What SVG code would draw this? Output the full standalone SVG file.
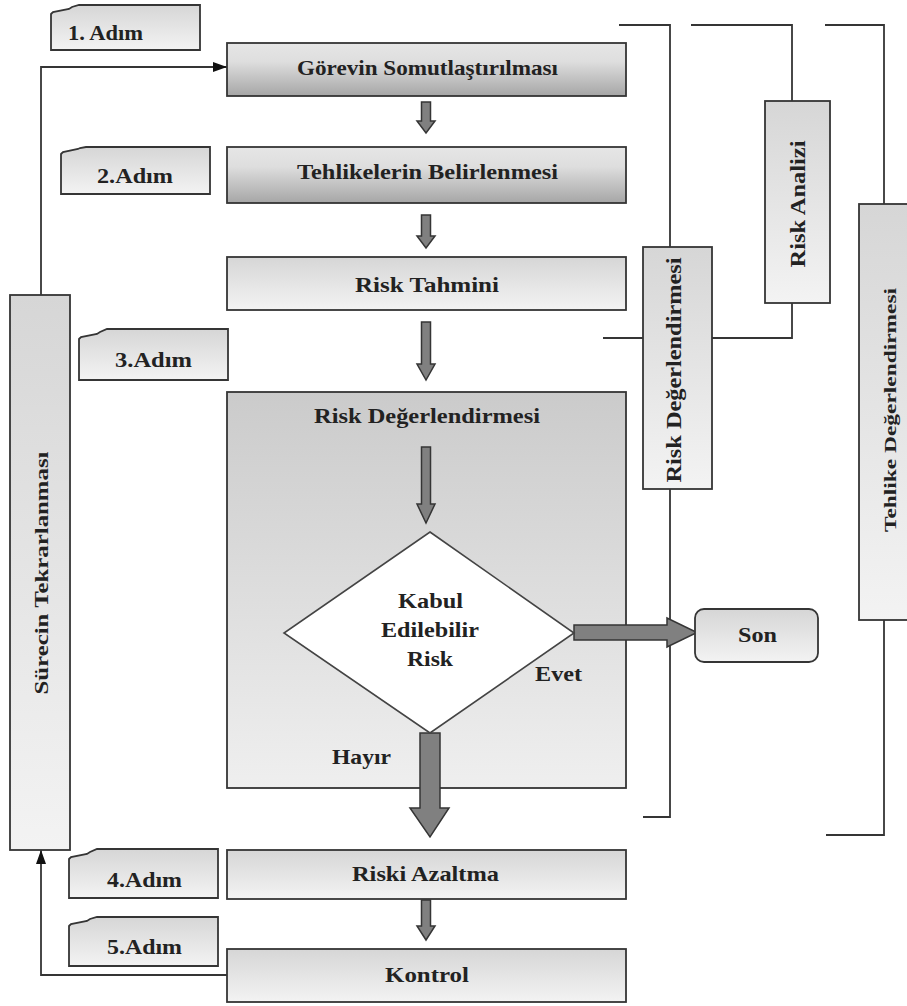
<svg xmlns="http://www.w3.org/2000/svg" width="907" height="1006" viewBox="0 0 907 1006">
<defs>
<linearGradient id="gDark" x1="0" y1="0" x2="0" y2="1"><stop offset="0" stop-color="#e6e6e6"/><stop offset="0.35" stop-color="#dedede"/><stop offset="1" stop-color="#a6a6a6"/></linearGradient>
<linearGradient id="gLight" x1="0" y1="0" x2="0" y2="1"><stop offset="0" stop-color="#d6d6d6"/><stop offset="1" stop-color="#f3f3f3"/></linearGradient>
<linearGradient id="gBig" x1="0" y1="0" x2="0" y2="1"><stop offset="0" stop-color="#cbcbcb"/><stop offset="1" stop-color="#efefef"/></linearGradient>
<marker id="ah" markerUnits="userSpaceOnUse" markerWidth="14" markerHeight="10" refX="14" refY="5" orient="auto"><path d="M0,0 L14,5 L0,10 Z" fill="#111"/></marker>
</defs>
<style>
.box{stroke:#353535;stroke-width:1.8}
.dark{fill:url(#gDark)}
.light{fill:url(#gLight)}
.t{font-family:"Liberation Serif","Times New Roman",serif;font-weight:bold;fill:#222}
.m{font-size:22px}
.s{font-size:20px}
.ln{fill:none;stroke:#353535;stroke-width:1.8}
.blk{fill:#808080;stroke:#353535;stroke-width:1.5}
</style>

<g id="connectors">
<polyline class="ln" points="41,295 41,67 227,67" marker-end="url(#ah)"/>
<polyline class="ln" points="227,975 41,975 41,850" marker-end="url(#ah)"/>
<path class="blk" d="M421.5,102 L430.5,102 L430.5,121 L435,121 L426,133 L417,121 L421.5,121 Z"/>
<path class="blk" d="M421.5,215 L430.5,215 L430.5,236 L435,236 L426,248 L417,236 L421.5,236 Z"/>
<path class="blk" d="M421.5,322 L430.5,322 L430.5,364 L435,364 L426,380 L417,364 L421.5,364 Z"/>
<path class="blk" d="M421.5,900 L430.5,900 L430.5,926 L435,926 L426,940 L417,926 L421.5,926 Z"/>
<polyline class="ln" points="619,25 670,25 670,247"/>
<polyline class="ln" points="670,489 670,817 643,817"/>
<polyline class="ln" points="603,338 643,338"/>
<polyline class="ln" points="712,338 792,338 792,303"/>
<polyline class="ln" points="691,25 792,25 792,101"/>
<polyline class="ln" points="825,25 884,25 884,204"/>
<polyline class="ln" points="884,620 884,835 826,835"/>
</g>

<g id="step1"><path class="box light" d="M51,14 L53,12 L69,9 L72,7 L79,5 L200,5 L200,50 L51,50 Z"/><text class="t s" x="68" y="40" textLength="75" lengthAdjust="spacingAndGlyphs">1. Adım</text></g>
<g id="step2"><path class="box light" d="M61,154 L63,152 L78,149 L80,148 L86,147 L210,147 L210,194 L61,194 Z"/><text class="t s" x="97" y="183" textLength="76" lengthAdjust="spacingAndGlyphs">2.Adım</text></g>
<g id="step3"><path class="box light" d="M79,339 L81,337 L97,334 L100,332 L107,329 L228,329 L228,380 L79,380 Z"/><text class="t s" x="115" y="367" textLength="77" lengthAdjust="spacingAndGlyphs">3.Adım</text></g>
<g id="step4"><path class="box light" d="M69,859 L71,857 L87,854 L90,852 L97,849 L218,849 L218,898 L69,898 Z"/><text class="t s" x="107" y="887" textLength="75" lengthAdjust="spacingAndGlyphs">4.Adım</text></g>
<g id="step5"><path class="box light" d="M69,926 L71,924 L87,921 L90,919 L97,917 L218,917 L218,966 L69,966 Z"/><text class="t s" x="107" y="954" textLength="75" lengthAdjust="spacingAndGlyphs">5.Adım</text></g>

<g id="gorev"><rect class="box dark" x="227" y="43" width="399" height="53"/><text class="t m" x="297" y="75" textLength="261" lengthAdjust="spacingAndGlyphs">Görevin Somutlaştırılması</text></g>
<g id="tehlikeler"><rect class="box dark" x="227" y="147" width="399" height="56"/><text class="t m" x="297" y="179" textLength="261" lengthAdjust="spacingAndGlyphs">Tehlikelerin Belirlenmesi</text></g>
<g id="tahmin"><rect class="box light" x="227" y="257" width="399" height="53"/><text class="t m" x="355" y="292" textLength="144" lengthAdjust="spacingAndGlyphs">Risk Tahmini</text></g>

<g id="riskdeg"><rect class="box" fill="url(#gBig)" x="227" y="392" width="399" height="396"/><text class="t m" x="314" y="423" textLength="226" lengthAdjust="spacingAndGlyphs">Risk Değerlendirmesi</text>
<path class="blk" d="M421.5,447 L430.5,447 L430.5,504 L435,504 L426,523 L417,504 L421.5,504 Z"/>
<text class="t m" x="535" y="681" textLength="47" lengthAdjust="spacingAndGlyphs">Evet</text>
<text class="t m" x="332" y="764" textLength="59" lengthAdjust="spacingAndGlyphs">Hayır</text>
</g>

<g id="evetarrow"><path class="blk" d="M574,625 L667,625 L667,618 L697,632.5 L667,647 L667,640 L574,640 Z"/></g>
<g id="hayirarrow"><path class="blk" d="M420,733 L440,733 L440,808 L449,808 L430,837 L410,808 L420,808 Z"/></g>

<g id="karar"><polygon points="430,532 574,633 430,733 284,633" fill="#fff" stroke="#444" stroke-width="1.6"/>
<text class="t m" x="398" y="608" textLength="65" lengthAdjust="spacingAndGlyphs">Kabul</text>
<text class="t m" x="381" y="637" textLength="98" lengthAdjust="spacingAndGlyphs">Edilebilir</text>
<text class="t m" x="407" y="666" textLength="46" lengthAdjust="spacingAndGlyphs">Risk</text></g>

<g id="son"><rect class="box light" x="695" y="609" width="123" height="53" rx="9"/><text class="t" font-size="21" x="738" y="642" textLength="39" lengthAdjust="spacingAndGlyphs">Son</text></g>

<g id="azaltma"><rect class="box light" x="227" y="850" width="399" height="49"/><text class="t m" x="352" y="881" textLength="147" lengthAdjust="spacingAndGlyphs">Riski Azaltma</text></g>
<g id="kontrol"><rect class="box light" x="227" y="949" width="399" height="53"/><text class="t m" x="385" y="982" textLength="84" lengthAdjust="spacingAndGlyphs">Kontrol</text></g>

<g id="surec"><rect class="box light" x="10" y="295" width="60" height="555"/><text class="t" font-size="19" transform="translate(41,573) rotate(-90)" x="-121.5" y="6.5" textLength="243" lengthAdjust="spacingAndGlyphs">Sürecin Tekrarlanması</text></g>
<g id="riskdegv"><rect class="box light" x="643" y="247" width="69" height="242"/><text class="t" font-size="21" transform="translate(674,370) rotate(-90)" x="-112.5" y="7" textLength="225" lengthAdjust="spacingAndGlyphs">Risk Değerlendirmesi</text></g>
<g id="analiz"><rect class="box light" x="765" y="101" width="65" height="202"/><text class="t m" transform="translate(797,204) rotate(-90)" x="-63.5" y="7.5" textLength="127" lengthAdjust="spacingAndGlyphs">Risk Analizi</text></g>
<g id="tehlikedeg"><rect class="box light" x="859" y="204" width="60" height="416"/><text class="t" font-size="17" transform="translate(890,410) rotate(-90)" x="-122" y="6" textLength="244" lengthAdjust="spacingAndGlyphs">Tehlike Değerlendirmesi</text></g>
</svg>
